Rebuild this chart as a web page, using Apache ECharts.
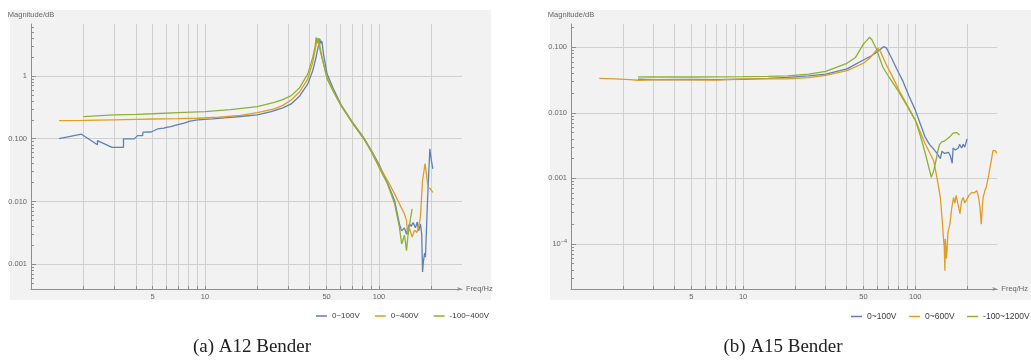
<!DOCTYPE html>
<html>
<head>
<meta charset="utf-8">
<script src="https://cdn.jsdelivr.net/npm/echarts@6/dist/echarts.min.js"></script>
<style>
  html, body { margin: 0; padding: 0; background: #fff; }
  #chart { width: 1031px; height: 363px; }
</style>
</head>
<body>
<div id="chart"></div>
<script>
// Frequency responses, [frequency in Hz, magnitude] pairs.

// (a) A12 bender
const a12_0_100V = [
  [1.45,0.100],[1.95,0.118],[2.41,0.080],[2.41,0.093],[2.92,0.073],[3.40,0.073],[3.40,0.0995],
  [3.92,0.0995],[4.1,0.112],[4.38,0.112],[4.4,0.127],[4.9,0.128],[5.0,0.136],[5.34,0.143],
  [5.8,0.147],[6.0,0.152],[6.37,0.156],[6.8,0.165],[7.6,0.177],[8.2,0.190],[9.08,0.200],
  [11,0.207],[13.5,0.217],[16,0.226],[20,0.240],[24,0.270],[28,0.310],[31.3,0.358],[35,0.48],
  [39,0.75],[41.6,1.21],[43.5,2.0],[44.8,3.0],[45.7,3.88],[46.3,3.3],[47,3.6],[48,2.2],
  [50.3,1.08],[55,0.60],[60.5,0.35],[70.9,0.178],[82,0.102],[91,0.063],[100,0.039],[112,0.0195],
  [123,0.0103],[131,0.0044],[135,0.0034],[140,0.0038],[144,0.0030],[146,0.0036],[150,0.0044],
  [153,0.0040],[157,0.0046],[162,0.0038],[166,0.0047],[169,0.0034],[173,0.0044],[176,0.0030],
  [178,0.00075],[180,0.0011],[183,0.0015],[185,0.0013],[190,0.010],[196,0.069],[200,0.045],[204,0.033]
];
const a12_0_400V = [
  [1.45,0.194],[2,0.196],[3,0.200],[4,0.203],[5,0.206],[7,0.209],[9,0.212],[12,0.220],[16,0.235],
  [20,0.260],[25,0.300],[28,0.340],[31.3,0.415],[35,0.56],[39,0.90],[41.6,1.65],[43,2.6],[44.1,4.0],
  [45,3.2],[46.5,2.2],[50.3,0.95],[55,0.55],[60.5,0.34],[70.9,0.172],[82,0.099],[91,0.061],
  [100,0.037],[112,0.0216],[123,0.0132],[131,0.0092],[140,0.0063],[144,0.0050],[146,0.0030],
  [150,0.0037],[155,0.0027],[160,0.0035],[165,0.0032],[168,0.0037],[173,0.0056],[178,0.0216],
  [184,0.040],[187,0.0285],[191,0.017],[197,0.016],[204,0.014]
];
const a12_m100_400V = [
  [2,0.225],[2.02,0.235],[3,0.240],[4,0.245],[5,0.250],[7,0.260],[10,0.270],[14,0.290],[20,0.325],
  [25,0.380],[28,0.420],[31.3,0.486],[35,0.65],[39,1.08],[41.6,1.98],[43,3.0],[43.5,4.13],[44.2,3.3],
  [45,4.0],[46.5,2.3],[50.3,0.90],[55,0.55],[60.5,0.337],[70.9,0.172],[82,0.099],[91,0.060],
  [100,0.035],[112,0.019],[123,0.0092],[131,0.0039],[135,0.0021],[140,0.0029],[144,0.00165],
  [147,0.0030],[150,0.0044],[155,0.0076]
];

// (b) A15 bender
const a15_0_100V = [
  [2.45,0.0325],[3,0.0322],[5,0.0323],[7,0.0320],[10,0.0325],[14,0.0335],[18.1,0.0348],[24,0.0365],
  [30.2,0.0388],[40.1,0.0467],[50,0.064],[56,0.075],[60,0.085],[65.5,0.102],[68,0.098],[72.5,0.0705],
  [78,0.047],[84.5,0.031],[92,0.018],[100.4,0.0108],[107,0.0068],[114,0.0043],[121,0.0033],
  [128,0.0028],[134,0.0024],[140,0.0020],[143,0.0026],[148,0.0024],[156,0.0025],[160,0.0022],
  [164,0.0017],[166,0.0029],[171,0.0027],[178,0.0029],[181,0.0033],[186,0.0029],[190,0.0033],
  [194,0.0030],[200,0.0040]
];
const a15_0_600V = [
  [1.46,0.0336],[1.8,0.0330],[2.2,0.0320],[2.45,0.0314],[3,0.0318],[5,0.0318],[7,0.0316],[10,0.0330],
  [14,0.0330],[18.1,0.0329],[24,0.0345],[30.2,0.0374],[40.1,0.044],[50,0.057],[55,0.070],[60.8,0.0966],
  [63,0.085],[67.6,0.0557],[74,0.035],[80.7,0.0218],[90,0.013],[100.4,0.0076],[107,0.0051],[114,0.0034],
  [121,0.0025],[128,0.00186],[134,0.0010],[140,0.00051],[144,0.000204],[146,0.00012],[147.5,0.00009],
  [148.8,0.000039],[149.5,0.00012],[150.7,0.000126],[152,0.00006],[153,0.00008],[155,0.00015],
  [159,0.00020],[163,0.00035],[167,0.00051],[170,0.00042],[173,0.00055],[177,0.00041],[182,0.00029],
  [186,0.00045],[190,0.00051],[194,0.00042],[198,0.00046],[205,0.00055],[213,0.00061],[220,0.00060],
  [228,0.00065],[234,0.00050],[238,0.00035],[242,0.00020],[245,0.00035],[248,0.00051],[254,0.00065],
  [259,0.00074],[265,0.0010],[270,0.0013],[277,0.0019],[283,0.00265],[292,0.00265],[298,0.0024]
];
const a15_m100_1200V = [
  [2.45,0.0353],[3,0.0352],[5,0.0352],[7,0.0354],[10,0.0356],[14,0.0360],[18.1,0.0365],[24,0.0390],
  [30.2,0.043],[40.1,0.057],[45,0.070],[50,0.112],[52,0.125],[54.3,0.142],[56,0.130],[59.5,0.094],
  [64.8,0.050],[70.9,0.034],[80.7,0.0205],[90,0.0125],[100.4,0.0076],[107,0.0045],[114,0.0025],
  [119,0.0016],[124,0.00104],[128,0.0013],[131,0.0017],[135,0.0025],[138,0.0032],[142.5,0.0036],
  [148,0.0037],[153,0.0040],[160,0.0044],[166,0.0049],[174,0.0050],[181,0.0046]
];

const a12Names = ['0~100V', '0~400V', '-100~400V'];
const a15Names = ['0~100V', '0~600V', '-100~1200V'];
const captions = ['(a) A12 Bender', '(b) A15 Bender'];

// Tick positions
const freqTicks = [2,3,4,5,6,7,8,9,10,20,30,40,50,60,70,80,90,100,200];
const freqLabels = [5,10,50,100];
const magMajorA12 = [0.001,0.01,0.1,1];
const magMajorA15 = [0.0001,0.001,0.01,0.1];
const magMinor = [];
[1e-5,1e-4,1e-3,1e-2,1e-1,1].forEach(function (d) {
  for (let k = 2; k <= 9; k++) magMinor.push(+(d * k).toPrecision(3));
});

const colors = ['#5e81b5', '#e19c24', '#8fb131'];
const axisGrey = '#8e8e8e';
const gridGrey = '#d0d0d0';
const labelGrey = '#666';
const labelFont = 'Liberation Sans, Arial, sans-serif';

function magLabel(v) {
  if (Math.abs(v - 1) < 1e-9) return '1';
  if (Math.abs(v - 1e-4) < 1e-12) return '10{sup|−4}';
  return v.toFixed(3);
}

function xAxisFor(gridIndex) {
  return {
    type: 'log', gridIndex: gridIndex, min: 1, max: 300, logBase: 10,
    name: 'Freq/Hz', nameLocation: 'end', nameGap: 4,
    nameTextStyle: { color: labelGrey, fontSize: 7.5, fontFamily: labelFont, padding: [0, 0, 0, 0] },
    axisLine: { show: true, lineStyle: { color: axisGrey, width: 1 }, symbol: ['none', 'arrow'], symbolSize: [3, 5] },
    axisTick: { show: true, inside: true, length: 3, customValues: freqTicks, lineStyle: { color: axisGrey } },
    axisLabel: { show: true, customValues: freqLabels, margin: 4, color: labelGrey, fontSize: 7.5, fontFamily: labelFont,
      formatter: function (v) { return String(Math.round(v)); } },
    splitLine: { show: true, lineStyle: { color: gridGrey, width: 1 } },
    minorTick: { show: false }, minorSplitLine: { show: false }
  };
}

function yAxesFor(gridIndex, min, max, majors) {
  return [{
    type: 'log', gridIndex: gridIndex, min: min, max: max, logBase: 10,
    name: 'Magnitude/dB', nameLocation: 'end', nameGap: 5,
    nameTextStyle: { color: labelGrey, fontSize: 7.5, fontFamily: labelFont, align: 'center' },
    axisLine: { show: true, lineStyle: { color: axisGrey, width: 1 } },
    axisTick: { show: true, inside: true, length: 5, customValues: majors, lineStyle: { color: axisGrey } },
    axisLabel: { show: true, customValues: majors, margin: 4, color: labelGrey, fontSize: 7.5, fontFamily: labelFont,
      formatter: magLabel, rich: { sup: { fontSize: 5.5, verticalAlign: 'top', color: labelGrey, padding: [0, 0, 4, 0] } } },
    splitLine: { show: true, lineStyle: { color: gridGrey, width: 1 } }
  }, {
    type: 'log', gridIndex: gridIndex, min: min, max: max, logBase: 10, position: 'left', offset: 0,
    axisLine: { show: false },
    axisTick: { show: true, inside: true, length: 3, customValues: magMinor, lineStyle: { color: axisGrey } },
    axisLabel: { show: false },
    splitLine: { show: false }
  }];
}

function lineSeries(name, data, gi, color) {
  return {
    type: 'line', name: name, data: data, xAxisIndex: gi, yAxisIndex: gi * 2,
    showSymbol: false, symbol: 'none', smooth: false, clip: true,
    lineStyle: { color: color, width: 1.3 }, itemStyle: { color: color },
    emphasis: { disabled: true }
  };
}

const chart = echarts.init(document.getElementById('chart'), null, { renderer: 'canvas' });

function legendAt(left, names, fontSize, gap) {
  return {
    left: left, top: 307, width: 320, data: names,
    orient: 'horizontal', icon: 'rect', itemWidth: 11, itemHeight: 1.5, itemGap: gap,
    textStyle: { color: '#3a3a3a', fontSize: fontSize, fontFamily: labelFont },
    selectedMode: false
  };
}

chart.setOption({
  backgroundColor: '#ffffff',
  animation: false,
  graphic: [
    { type: 'rect', left: 10, top: 10, z: -10, silent: true, shape: { width: 481, height: 290 }, style: { fill: '#f2f2f2' } },
    { type: 'rect', left: 550, top: 10, z: -10, silent: true, shape: { width: 481, height: 290 }, style: { fill: '#f2f2f2' } },
    { type: 'text', x: 252, y: 347, silent: true,
      style: { text: captions[0], fill: '#222', font: '19px "Liberation Serif", serif', align: 'center', verticalAlign: 'middle' } },
    { type: 'text', x: 783, y: 347, silent: true,
      style: { text: captions[1], fill: '#222', font: '19px "Liberation Serif", serif', align: 'center', verticalAlign: 'middle' } }
  ],
  grid: [
    { left: 31, top: 24, width: 431, height: 265, containLabel: false, show: false },
    { left: 571, top: 24, width: 431, height: 265, containLabel: false, show: false }
  ],
  xAxis: [xAxisFor(0), xAxisFor(1)],
  yAxis: yAxesFor(0, 4.03e-4, 6.73, magMajorA12).concat(yAxesFor(1, 2.05e-5, 0.2265, magMajorA15)),
  legend: [
    legendAt(311, a12Names, 8, 15),
    legendAt(846, a15Names, 8.5, 12.5)
  ],
  series: [
    lineSeries(a12Names[0], a12_0_100V, 0, colors[0]),
    lineSeries(a12Names[1], a12_0_400V, 0, colors[1]),
    lineSeries(a12Names[2], a12_m100_400V, 0, colors[2]),
    lineSeries(a15Names[0], a15_0_100V, 1, colors[0]),
    lineSeries(a15Names[1], a15_0_600V, 1, colors[1]),
    lineSeries(a15Names[2], a15_m100_1200V, 1, colors[2])
  ]
});
</script>
</body>
</html>
